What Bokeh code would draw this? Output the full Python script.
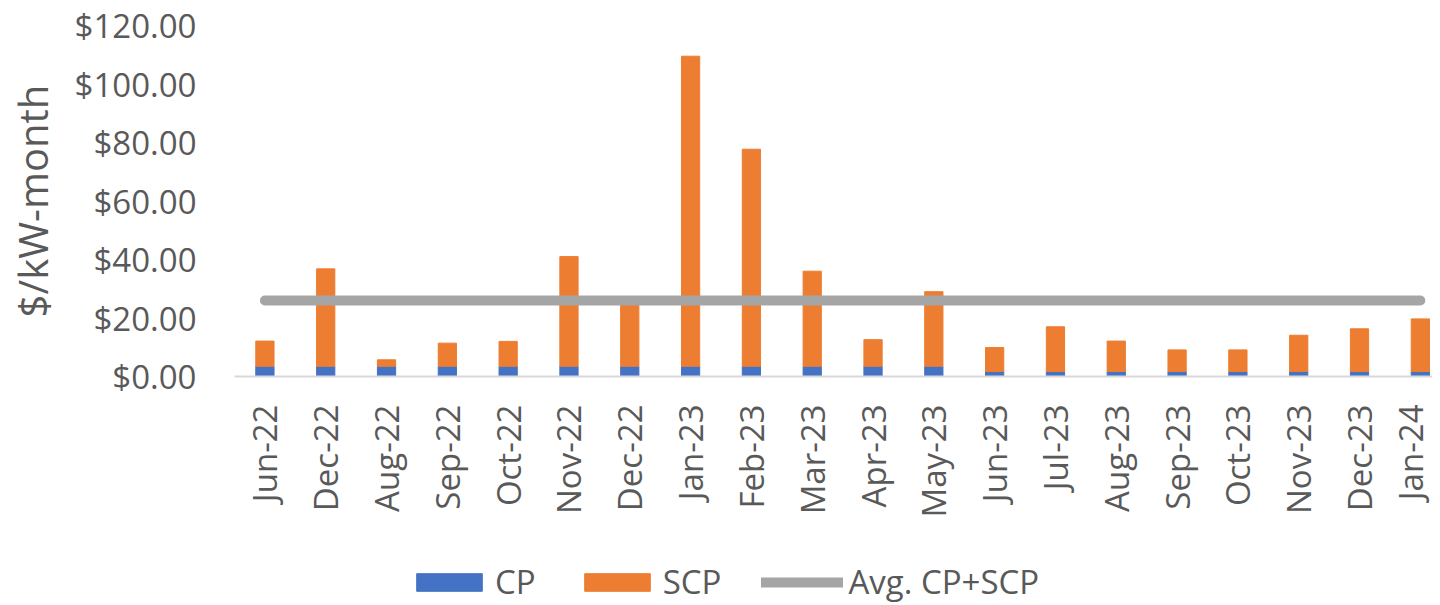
import math
from bokeh.plotting import figure
from bokeh.layouts import column
from bokeh.models import (Range1d, FixedTicker, NumeralTickFormatter, Legend, LegendItem,
                          ColumnDataSource)
from bokeh.embed import file_html
from bokeh.resources import INLINE

months = ["Jun-22", "Dec-22", "Aug-22", "Sep-22", "Oct-22", "Nov-22", "Dec-22", "Jan-23",
          "Feb-23", "Mar-23", "Apr-23", "May-23", "Jun-23", "Jul-23", "Aug-23", "Sep-23",
          "Oct-23", "Nov-23", "Dec-23", "Jan-24"]
cp = [3.5, 3.5, 3.5, 3.5, 3.5, 3.5, 3.5, 3.5, 3.5, 3.5, 3.5, 3.5,
      1.7, 1.7, 1.7, 1.7, 1.7, 1.7, 1.7, 1.7]
scp = [8.6, 33.3, 2.2, 7.9, 8.5, 37.5, 21.5, 106.0, 74.2, 32.5, 9.1, 25.5,
       8.2, 15.3, 10.4, 7.4, 7.4, 12.4, 14.6, 18.0]
avg_cp_scp = 26.0
y_ticks = [0, 20, 40, 60, 80, 100, 120]
series_names = ["CP", "SCP", "Avg. CP+SCP"]

FONT = "Open Sans"
TXT = "#595959"
BLUE = "#4472C4"
ORANGE = "#ED7D31"
GREY = "#A5A5A5"

xs = list(range(len(months)))
tops = [a + b for a, b in zip(cp, scp)]
src = ColumnDataSource(dict(x=xs, cp=cp, top=tops, avg=[avg_cp_scp for _ in xs]))

p = figure(frame_width=1198, frame_height=351, output_backend="svg", toolbar_location=None,
           x_range=Range1d(-0.5, 19.2), y_range=Range1d(0, 120),
           min_border_left=234, min_border_top=25, min_border_right=0, min_border_bottom=140)
p.outline_line_color = None
p.xgrid.visible = False
p.ygrid.visible = False

p.vbar(x="x", bottom=0, top="cp", width=0.3, source=src, fill_color=BLUE, line_color=BLUE)
p.vbar(x="x", bottom="cp", top="top", width=0.3, source=src,
       fill_color=ORANGE, line_color=ORANGE)
p.line(x="x", y="avg", source=src, line_width=10, line_color=GREY, line_cap="round")

# x axis
xa = p.xaxis[0]
xa.ticker = FixedTicker(ticks=xs)
xa.major_label_overrides = {i: m for i, m in enumerate(months)}
xa.major_label_orientation = math.pi / 2
xa.major_tick_line_color = None
xa.minor_tick_line_color = None
xa.axis_line_color = "#D9D9D9"
xa.axis_line_width = 2
xa.major_label_text_font = FONT
xa.major_label_text_font_size = "33px"
xa.major_label_text_color = TXT
xa.major_label_standoff = 22

# y axis
ya = p.yaxis[0]
ya.ticker = FixedTicker(ticks=y_ticks)
ya.formatter = NumeralTickFormatter(format="$0.00")
ya.axis_line_color = None
ya.major_tick_line_color = None
ya.minor_tick_line_color = None
ya.major_label_text_font = FONT
ya.major_label_text_font_size = "33px"
ya.major_label_text_color = TXT
ya.major_label_standoff = 32
ya.axis_label = "$/kW-month"
ya.axis_label_text_font = FONT
ya.axis_label_text_font_size = "40px"
ya.axis_label_text_font_style = "normal"
ya.axis_label_text_color = TXT
ya.axis_label_standoff = 12

# legend strip below the chart (its ranges keep the series out of view; only the legend shows)
p2 = figure(width=1432, height=89, output_backend="svg", toolbar_location=None,
            x_range=Range1d(1000, 1001), y_range=Range1d(1000, 1001),
            min_border_left=0, min_border_right=0, min_border_top=0, min_border_bottom=0)
p2.outline_line_color = None
p2.axis.visible = False
p2.xgrid.visible = False
p2.ygrid.visible = False
l_cp = p2.vbar(x="x", bottom=0, top="cp", width=0.3, source=src,
               fill_color=BLUE, line_color=BLUE)
l_scp = p2.vbar(x="x", bottom="cp", top="top", width=0.3, source=src,
                fill_color=ORANGE, line_color=ORANGE)
l_avg = p2.line(x="x", y="avg", source=src, line_width=10, line_color=GREY, line_cap="round")

legend = Legend(items=[LegendItem(label=series_names[0], renderers=[l_cp]),
                       LegendItem(label=series_names[1], renderers=[l_scp]),
                       LegendItem(label=series_names[2], renderers=[l_avg])],
                orientation="horizontal", location=(174, 5))
legend.border_line_color = None
legend.background_fill_alpha = 0
legend.label_text_font = FONT
legend.label_text_font_size = "33px"
legend.label_text_color = TXT
legend.glyph_width = 82
legend.glyph_height = 22
legend.label_standoff = 5
legend.spacing = 40
legend.padding = 0
legend.margin = 0
p2.add_layout(legend, "center")

open("out.html", "w").write(file_html(column(p, p2, spacing=0), INLINE))
